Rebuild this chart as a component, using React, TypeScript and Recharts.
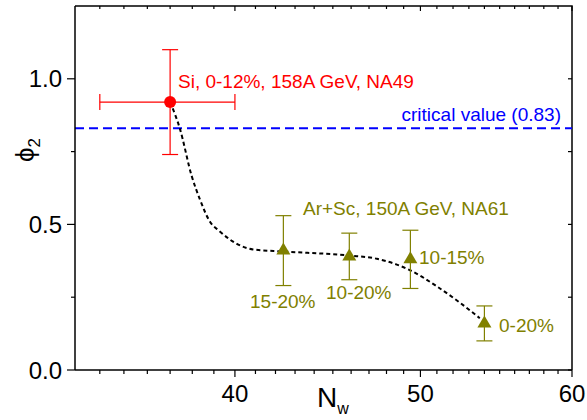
import {
  ComposedChart,
  XAxis,
  YAxis,
  Line,
  Scatter,
  ErrorBar,
  ReferenceLine,
  Customized,
} from "recharts";

// axis ticks
const xMajor = [40, 50, 60];
const xMinor = [34, 35, 36, 37, 38, 39, 41, 42, 43, 44, 45, 46, 47, 48, 49, 51, 52, 53, 54, 55, 56, 57, 58, 59];
const yMajor = [0, 0.5, 1.0];
const yMinor = [0.25, 0.75];
const xMin = 33;
const xMax = 60;
const yMax = 1.25;

const criticalValue = 0.83;

// NA49 Si+Si point
const siNw = [37.0];
const siPhi = [0.92];
const siErrX = [[3, 3]];
const siErrY = [0.18];

// NA61 Ar+Sc points
const arScNw = [42.4, 45.9, 49.4, 54.0];
const arScPhi = [0.41, 0.39, 0.38, 0.16];
const arScErr = [0.12, 0.08, 0.1, 0.06];
const arScCentrality = ["15-20%", "10-20%", "10-15%", "0-20%"];

// dashed guide curve
const curveNw = [37.0, 37.44, 37.97, 38.35, 38.81, 39.28, 39.76, 40.88, 42.38, 45.9, 47.45, 48.6, 49.3, 51.0, 52.46, 53.7];
const curvePhi = [0.92, 0.828, 0.667, 0.586, 0.51, 0.476, 0.448, 0.414, 0.407, 0.393, 0.382, 0.362, 0.345, 0.287, 0.23, 0.178];

const siData = siNw.map((x, i) => ({ x, y: siPhi[i], ex: siErrX[i], ey: siErrY[i] }));
const arScData = arScNw.map((x, i) => ({ x, y: arScPhi[i], ey: arScErr[i] }));
const curveData = curveNw.map((x, i) => ({ x, y: curvePhi[i] }));

const xTicks = [...xMinor, ...xMajor].sort((a, b) => a - b);
const yTicks = [...yMinor, ...yMajor].sort((a, b) => a - b);

const F = "'Liberation Sans', Arial, sans-serif";
const RED = "#ff0000";
const OLIVE = "#808000";
const BLUE = "#0000ff";

// plot box (margins + axis sizes), used for the top/right frame
const W = 587;
const H = 420;
const M = { top: 6, right: 15 };
const Y_W = 75;
const X_H = 50;
const box = { l: Y_W, t: M.top, r: W - M.right, b: H - X_H };
const fx = (v: number) => box.l + ((box.r - box.l) * Math.log(v / xMin)) / Math.log(xMax / xMin);
const fy = (v: number) => box.b - ((box.b - box.t) * v) / yMax;

const BottomTick = (p: any) => {
  const v = p.payload.value;
  const major = xMajor.includes(v);
  return (
    <g>
      <line x1={p.x} x2={p.x} y1={p.y} y2={p.y + (major ? 7 : 4)} stroke="#000" strokeWidth={1.2} />
      {major && (
        <text x={p.x} y={p.y + 32} textAnchor="middle" fontSize={24} fontFamily={F} fill="#000">
          {v}
        </text>
      )}
    </g>
  );
};

const LeftTick = (p: any) => {
  const v = p.payload.value;
  const major = yMajor.includes(v);
  return (
    <g>
      <line x1={p.x - (major ? 8 : 4)} x2={p.x} y1={p.y} y2={p.y} stroke="#000" strokeWidth={1.2} />
      {major && (
        <text x={p.x - 13} y={p.y + 8.5} textAnchor="end" fontSize={24} fontFamily={F} fill="#000">
          {v.toFixed(1)}
        </text>
      )}
    </g>
  );
};

const Triangle = (p: any) => {
  const { cx, cy } = p;
  return <polygon points={`${cx},${cy - 8} ${cx - 7},${cy + 4} ${cx + 7},${cy + 4}`} fill={OLIVE} />;
};

const Overlay = () => (
  <g>
    <g stroke="#000" fill="none">
      <path d={`M${box.l},${box.t}H${box.r}V${box.b}`} strokeWidth={1.5} />
      {xTicks.map((v) => (
        <path key={"t" + v} d={`M${fx(v)},${box.t}V${box.t + (xMajor.includes(v) ? 5 : 3)}`} strokeWidth={1.2} />
      ))}
      {yTicks.map((v) => (
        <path key={"r" + v} d={`M${box.r - 4},${fy(v)}H${box.r}`} strokeWidth={1.2} />
      ))}
    </g>
    <g fontFamily={F} fontSize={19}>
      <text x={178} y={88} fill={RED}>Si, 0-12%, 158A GeV, NA49</text>
      <text x={561} y={121} fill={BLUE} textAnchor="end">critical value (0.83)</text>
      <text x={303} y={215} fill={OLIVE}>Ar+Sc, 150A GeV, NA61</text>
      <text x={250} y={308} fill={OLIVE}>{arScCentrality[0]}</text>
      <text x={326} y={299} fill={OLIVE}>{arScCentrality[1]}</text>
      <text x={419} y={264} fill={OLIVE}>{arScCentrality[2]}</text>
      <text x={499} y={332} fill={OLIVE}>{arScCentrality[3]}</text>
      <text x={317} y={407} fontSize={28} fill="#000">
        N<tspan fontSize={16} dy={7}>w</tspan>
      </text>
      <text transform="translate(34,150) rotate(-90)" textAnchor="middle" fontSize={26} fill="#000">
        {"\u03d5"}<tspan fontSize={17} dy={6}>2</tspan>
      </text>
    </g>
  </g>
);

export default function App() {
  return (
    <div style={{ position: "absolute", left: 0, top: 0, width: W, height: H, background: "#fff" }}>
      <ComposedChart width={W} height={H} margin={{ top: M.top, right: M.right, bottom: 0, left: 0 }}>
        <XAxis
          xAxisId="b"
          dataKey="x"
          type="number"
          scale="log"
          domain={[xMin, xMax]}
          allowDataOverflow
          ticks={xTicks}
          interval={0}
          tick={<BottomTick />}
          tickLine={false}
          tickSize={0}
          tickMargin={0}
          height={X_H}
          axisLine={{ stroke: "#000", strokeWidth: 1.5 }}
        />
        <YAxis
          yAxisId="l"
          dataKey="y"
          type="number"
          domain={[0, yMax]}
          allowDataOverflow
          ticks={yTicks}
          interval={0}
          tick={<LeftTick />}
          tickLine={false}
          tickSize={0}
          tickMargin={0}
          width={Y_W}
          axisLine={{ stroke: "#000", strokeWidth: 1.5 }}
        />
        <ReferenceLine
          xAxisId="b"
          yAxisId="l"
          y={criticalValue}
          stroke={BLUE}
          strokeWidth={2}
          strokeDasharray="9 5"
        />
        <Line
          xAxisId="b"
          yAxisId="l"
          data={curveData}
          dataKey="y"
          type="monotone"
          stroke="#000"
          strokeWidth={2}
          strokeDasharray="4 3"
          dot={false}
          isAnimationActive={false}
        />
        <Scatter xAxisId="b" yAxisId="l" data={siData} fill={RED} isAnimationActive={false}
          shape={(p: any) => <circle cx={p.cx} cy={p.cy} r={6} fill={RED} />}>
          <ErrorBar dataKey="ey" direction="y" stroke={RED} width={8} strokeWidth={1.2} />
          <ErrorBar dataKey="ex" direction="x" stroke={RED} width={8} strokeWidth={1.2} />
        </Scatter>
        <Scatter xAxisId="b" yAxisId="l" data={arScData} fill={OLIVE} isAnimationActive={false} shape={<Triangle />}>
          <ErrorBar dataKey="ey" direction="y" stroke={OLIVE} width={8} strokeWidth={1.2} />
        </Scatter>
        <Customized component={<Overlay />} />
      </ComposedChart>
    </div>
  );
}
